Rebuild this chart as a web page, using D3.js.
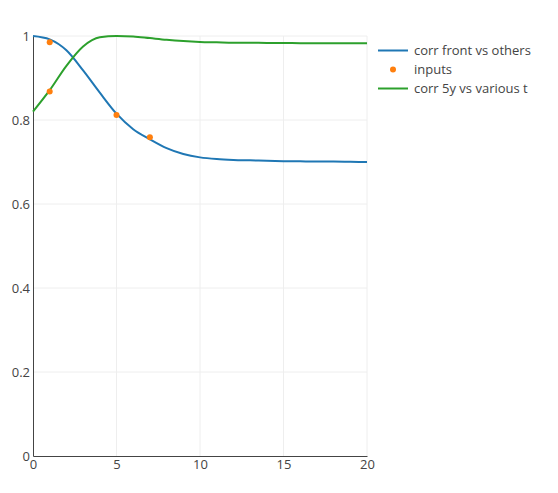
<!DOCTYPE html>
<html>
<head>
<meta charset="utf-8">
<script src="https://cdn.jsdelivr.net/npm/d3@7"></script>
<style>
  html, body { margin: 0; padding: 0; background: #fff; }
  svg { display: block; font-family: "Open Sans", "DejaVu Sans", sans-serif; }
</style>
</head>
<body>
<svg id="chart" width="558" height="493"></svg>
<script>
// ---- data ----
const xGrid = [0,1,2,3,4,5,6,7,8,9,10,11,12,13,14,15,16,17,18,19,20];
const corrFront = [1.0,0.992,0.966,0.918,0.865,0.815,0.778,0.754,0.733,0.719,0.711,0.707,0.705,0.704,0.703,0.702,0.7015,0.701,0.701,0.7005,0.700];
const corr5y = [0.82,0.871,0.929,0.975,0.997,1.0,0.999,0.995,0.991,0.988,0.986,0.985,0.984,0.984,0.9835,0.9835,0.983,0.983,0.983,0.983,0.983];
const inputX = [1, 1, 5, 7];
const inputY = [0.985, 0.868, 0.812, 0.759];
const xTicks = [0,5,10,15,20];
const yTicks = [0,0.2,0.4,0.6,0.8,1];
const seriesNames = ["corr front vs others", "inputs", "corr 5y vs various t"];
const colors = ["#1f77b4", "#ff7f0e", "#2ca02c"];

// ---- layout ----
const svg = d3.select("#chart");
const plot = { left: 33, right: 367, top: 36, bottom: 456 };
const x = d3.scaleLinear().domain([0, 20]).range([plot.left, plot.right]);
const y = d3.scaleLinear().domain([0, 1]).range([plot.bottom, plot.top]);
const fontSize = "13px";

// grid
const grid = svg.append("g");
grid.selectAll("line.v").data(xTicks.filter(d => d !== 0)).enter().append("line")
  .attr("x1", d => x(d)).attr("x2", d => x(d))
  .attr("y1", plot.top).attr("y2", plot.bottom)
  .attr("stroke", "#eee").attr("stroke-width", 1);
grid.selectAll("line.h").data(yTicks.filter(d => d !== 0)).enter().append("line")
  .attr("x1", plot.left).attr("x2", plot.right)
  .attr("y1", d => y(d)).attr("y2", d => y(d))
  .attr("stroke", "#eee").attr("stroke-width", 1);

// axes
const xAxis = d3.axisBottom(x).tickValues(xTicks).tickFormat(d3.format("d")).tickSize(0).tickPadding(4);
const gx = svg.append("g").attr("transform", `translate(0,${plot.bottom})`).call(xAxis);
gx.select(".domain").attr("stroke", "#444").attr("stroke-width", 1);
gx.selectAll("text").attr("fill", "#444").style("font-size", fontSize)
  .style("font-family", '"Open Sans", sans-serif');

const yAxis = d3.axisLeft(y).tickValues(yTicks).tickFormat(d => d === 0 ? "0" : d === 1 ? "1" : d3.format(".1f")(d)).tickSize(0).tickPadding(3);
const gy = svg.append("g").attr("transform", `translate(${plot.left},0)`).call(yAxis);
gy.select(".domain").attr("stroke", "#444").attr("stroke-width", 1);
gy.selectAll("text").attr("fill", "#444").style("font-size", fontSize)
  .style("font-family", '"Open Sans", sans-serif');

// lines
const line = d3.line().x(d => x(d[0])).y(d => y(d[1])).curve(d3.curveMonotoneX);
svg.append("path").datum(xGrid.map((v, i) => [v, corrFront[i]]))
  .attr("d", line).attr("fill", "none").attr("stroke", colors[0]).attr("stroke-width", 2);
svg.append("path").datum(xGrid.map((v, i) => [v, corr5y[i]]))
  .attr("d", line).attr("fill", "none").attr("stroke", colors[2]).attr("stroke-width", 2);

// points
svg.selectAll("circle.inp").data(inputX.map((v, i) => [v, inputY[i]])).enter().append("circle")
  .attr("cx", d => x(d[0])).attr("cy", d => y(d[1])).attr("r", 3)
  .attr("fill", colors[1]);

// legend
const leg = svg.append("g").attr("transform", "translate(378,50.5)");
seriesNames.forEach((name, i) => {
  const g = leg.append("g").attr("transform", `translate(0,${i * 19})`);
  if (i === 1) {
    g.append("circle").attr("cx", 15).attr("cy", 0).attr("r", 3).attr("fill", colors[i]);
  } else {
    g.append("line").attr("x1", 0).attr("x2", 30).attr("y1", 0).attr("y2", 0)
      .attr("stroke", colors[i]).attr("stroke-width", 2);
  }
  g.append("text").attr("x", 36).attr("y", 0).attr("dy", "0.35em")
    .attr("fill", "#444").style("font-size", fontSize).text(name);
});
</script>
</body>
</html>
